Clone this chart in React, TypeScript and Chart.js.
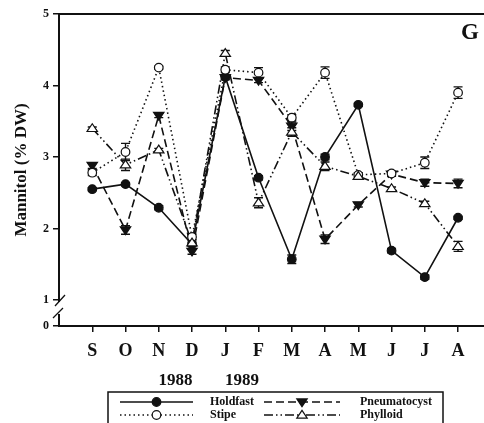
import React, { useEffect, useRef } from "react";
import { Chart, registerables } from "chart.js";

Chart.register(...registerables);

// ---- data ----
const months = ["S", "O", "N", "D", "J", "F", "M", "A", "M", "J", "J", "A"];
const yTickValues = [1, 2, 3, 4, 5];
const yZeroLabel = "0";
const yearLabels = ["1988", "1989"];

const holdfast = [2.55, 2.62, 2.29, 1.78, 4.12, 2.71, 1.57, 3.0, 3.73, 1.69, 1.32, 2.15];
const pneumatocyst = [2.88, 1.98, 3.58, 1.68, 4.11, 4.07, 3.43, 1.85, 2.33, 2.76, 2.64, 2.63];
const stipe = [2.78, 3.07, 4.25, 1.88, 4.22, 4.18, 3.55, 4.18, 2.75, 2.77, 2.92, 3.9];
const phylloid = [3.4, 2.89, 3.1, 1.8, 4.45, 2.36, 3.35, 2.87, 2.73, 2.56, 2.35, 1.75];

const holdfastErr = [0.02, 0.02, 0.03, 0.03, 0.03, 0.03, 0.06, 0.04, 0.02, 0.03, 0.03, 0.02];
const pneumatocystErr = [0.04, 0.06, 0.03, 0.04, 0.03, 0.03, 0.06, 0.06, 0.03, 0.03, 0.05, 0.06];
const stipeErr = [0.04, 0.12, 0.02, 0.04, 0.04, 0.07, 0.04, 0.08, 0.03, 0.03, 0.08, 0.08];
const phylloidErr = [0.02, 0.08, 0.02, 0.04, 0.04, 0.07, 0.06, 0.06, 0.04, 0.02, 0.03, 0.07];

const seriesNames = ["Holdfast", "Pneumatocyst", "Stipe", "Phylloid"];
const panelLabel = "G";
const yTitle = "Mannitol (% DW)";

// axis break: bottom of the axis shows "0" but the scale is compressed
const Y_BOTTOM = 0.636;
const Y_TOP = 5;

const SERIF = "'Liberation Serif', 'Times New Roman', serif";

type Style = {
  dash: number[];
  shape: "circle" | "triDown" | "triUp";
  filled: boolean;
};
const styles: Style[] = [
  { dash: [], shape: "circle", filled: true },
  { dash: [8, 4], shape: "triDown", filled: true },
  { dash: [1.5, 3], shape: "circle", filled: false },
  { dash: [9, 3, 1.5, 3, 1.5, 3], shape: "triUp", filled: false },
];
const values = [holdfast, pneumatocyst, stipe, phylloid];
const errors = [holdfastErr, pneumatocystErr, stipeErr, phylloidErr];

function drawMarker(ctx: CanvasRenderingContext2D, s: Style, x: number, y: number) {
  ctx.save();
  ctx.setLineDash([]);
  ctx.lineWidth = 1.2;
  ctx.strokeStyle = "#111";
  ctx.fillStyle = s.filled ? "#111" : "#fff";
  ctx.beginPath();
  if (s.shape === "circle") {
    ctx.arc(x, y, 4.3, 0, Math.PI * 2);
  } else if (s.shape === "triDown") {
    const r = 5.2;
    ctx.moveTo(x - r, y - r * 0.6);
    ctx.lineTo(x + r, y - r * 0.6);
    ctx.lineTo(x, y + r * 0.9);
    ctx.closePath();
  } else {
    const r = 5.2;
    ctx.moveTo(x - r, y + r * 0.6);
    ctx.lineTo(x + r, y + r * 0.6);
    ctx.lineTo(x, y - r * 0.9);
    ctx.closePath();
  }
  ctx.fill();
  ctx.stroke();
  ctx.restore();
}

const extras = {
  id: "extras",
  beforeDatasetsDraw(chart: any) {
    const ctx: CanvasRenderingContext2D = chart.ctx;
    const ys = chart.scales.y;
    ctx.save();
    ctx.strokeStyle = "#111";
    ctx.lineWidth = 1.4;
    ctx.setLineDash([]);
    values.forEach((vals, i) => {
      const meta = chart.getDatasetMeta(i);
      vals.forEach((v, j) => {
        const e = errors[i][j];
        if (!e) return;
        const x = meta.data[j].x;
        const y1 = ys.getPixelForValue(v + e);
        const y2 = ys.getPixelForValue(v - e);
        ctx.beginPath();
        ctx.moveTo(x, y1);
        ctx.lineTo(x, y2);
        ctx.moveTo(x - 4.5, y1);
        ctx.lineTo(x + 4.5, y1);
        ctx.moveTo(x - 4.5, y2);
        ctx.lineTo(x + 4.5, y2);
        ctx.stroke();
      });
    });
    ctx.restore();
  },
  afterDatasetsDraw(chart: any) {
    const ctx: CanvasRenderingContext2D = chart.ctx;
    values.forEach((vals, i) => {
      const meta = chart.getDatasetMeta(i);
      vals.forEach((_v, j) => {
        const p = meta.data[j];
        drawMarker(ctx, styles[i], p.x, p.y);
      });
    });
  },
  afterDraw(chart: any) {
    const ctx: CanvasRenderingContext2D = chart.ctx;
    const area = chart.chartArea;
    const xs = chart.scales.x;
    ctx.save();
    // top border
    ctx.strokeStyle = "#111";
    ctx.lineWidth = 2;
    ctx.beginPath();
    ctx.moveTo(area.left - 1, area.top);
    ctx.lineTo(area.right, area.top);
    ctx.stroke();

    // axis break
    const ys = chart.scales.y;
    const yOne = ys.getPixelForValue(1);
    ctx.fillStyle = "#fff";
    ctx.fillRect(area.left - 2, yOne + 2, 4, 12);
    ctx.lineWidth = 1.3;
    ctx.beginPath();
    ctx.moveTo(area.left - 4, yOne + 6);
    ctx.lineTo(area.left + 6, yOne - 5);
    ctx.moveTo(area.left - 6, yOne + 18);
    ctx.lineTo(area.left + 4, yOne + 8);
    ctx.stroke();

    // y title
    ctx.fillStyle = "#111";
    ctx.save();
    ctx.translate(22, (area.top + area.bottom) / 2);
    ctx.rotate(-Math.PI / 2);
    ctx.font = `bold 17px ${SERIF}`;
    ctx.textAlign = "center";
    ctx.textBaseline = "middle";
    ctx.fillText(yTitle, 0, 0);
    ctx.restore();

    // panel label
    ctx.font = `bold 23px ${SERIF}`;
    ctx.textAlign = "center";
    ctx.textBaseline = "middle";
    ctx.fillText(panelLabel, area.right - 14, area.top + 19);

    // years
    ctx.font = `bold 17px ${SERIF}`;
    const x1988 = (xs.getPixelForValue(2) + xs.getPixelForValue(3)) / 2;
    const x1989 = (xs.getPixelForValue(4) + xs.getPixelForValue(5)) / 2;
    ctx.fillText(yearLabels[0], x1988, 381);
    ctx.fillText(yearLabels[1], x1989, 381);

    // legend
    ctx.lineWidth = 1.5;
    ctx.strokeStyle = "#111";
    ctx.strokeRect(108, 392, 335, 40);
    const items = [
      { i: 0, x1: 120, x2: 193, tx: 210, y: 402 },
      { i: 1, x1: 264, x2: 340, tx: 360, y: 402 },
      { i: 2, x1: 120, x2: 193, tx: 210, y: 415 },
      { i: 3, x1: 264, x2: 340, tx: 360, y: 415 },
    ];
    ctx.font = `bold 12px ${SERIF}`;
    ctx.textAlign = "left";
    items.forEach((it) => {
      const s = styles[it.i];
      ctx.save();
      ctx.lineWidth = 1.5;
      ctx.setLineDash(s.dash);
      ctx.beginPath();
      ctx.moveTo(it.x1, it.y);
      ctx.lineTo(it.x2, it.y);
      ctx.stroke();
      ctx.restore();
      drawMarker(ctx, s, (it.x1 + it.x2) / 2, it.y);
      ctx.fillStyle = "#111";
      ctx.fillText(seriesNames[it.i], it.tx, it.y);
    });
    ctx.restore();
  },
};

export default function App() {
  const ref = useRef<HTMLCanvasElement>(null);
  useEffect(() => {
    if (!ref.current) return;
    const chart = new Chart(ref.current, {
      type: "line",
      data: {
        datasets: values.map((vals, i) => ({
          label: seriesNames[i],
          data: vals.map((v, j) => ({ x: j, y: v })),
          borderColor: "#111",
          borderWidth: 1.6,
          borderDash: styles[i].dash,
          pointRadius: 0,
          fill: false,
          tension: 0,
        })),
      },
      options: {
        responsive: false,
        animation: false,
        clip: false as any,
        layout: { padding: { top: 14, right: 0, left: 0, bottom: 0 } },
        plugins: { legend: { display: false }, tooltip: { enabled: false } },
        scales: {
          x: {
            type: "linear",
            min: -1,
            max: 11.78,
            afterBuildTicks: (s: any) => {
              s.ticks = months.map((_m, i) => ({ value: i }));
            },
            afterFit: (s: any) => {
              s.height = 97;
            },
            ticks: {
              autoSkip: false,
              maxRotation: 0,
              padding: 9,
              color: "#111",
              font: { family: SERIF, size: 18, weight: "bold" },
              callback: (v: any) => months[Math.round(Number(v))] ?? "",
            },
            grid: {
              drawOnChartArea: false,
              drawTicks: true,
              tickLength: 6,
              color: "#111",
              lineWidth: 1.5,
            },
            border: { display: true, color: "#111", width: 2 },
          },
          y: {
            type: "linear",
            min: Y_BOTTOM,
            max: Y_TOP,
            afterBuildTicks: (s: any) => {
              s.ticks = [{ value: Y_BOTTOM }, ...yTickValues.map((v) => ({ value: v }))];
            },
            afterFit: (s: any) => {
              s.width = 59;
            },
            ticks: {
              padding: 4,
              color: "#111",
              font: { family: SERIF, size: 12, weight: "bold" },
              callback: (v: any) => (Math.abs(Number(v) - Y_BOTTOM) < 1e-6 ? yZeroLabel : String(v)),
            },
            grid: {
              drawOnChartArea: false,
              drawTicks: true,
              tickLength: 6,
              color: "#111",
              lineWidth: 1.5,
            },
            border: { display: true, color: "#111", width: 2 },
          },
        },
      },
      plugins: [extras],
    });
    return () => chart.destroy();
  }, []);
  return (
    <div style={{ position: "fixed", left: 0, top: 0, width: 484, height: 423, background: "#fff" }}>
      <canvas ref={ref} width={484} height={423} style={{ display: "block" }} />
    </div>
  );
}
